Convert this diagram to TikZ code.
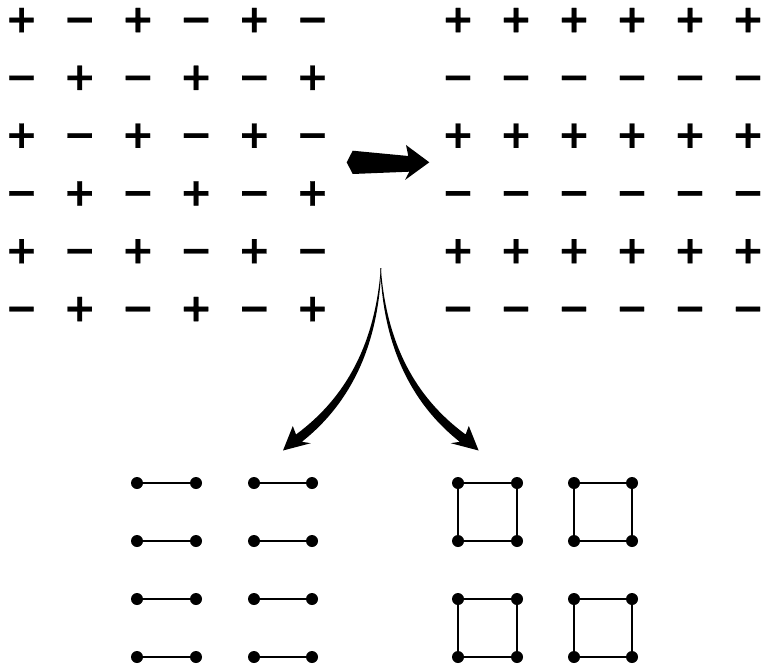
\documentclass[tikz,border=0pt]{standalone}
\usepackage{fontspec}
\newfontfamily\signfont{DejaVu Sans Bold}[FakeBold=0.6]
\usetikzlibrary{arrows.meta, positioning}
\tikzset{
  sign/.style={font=\signfont\fontsize{29}{29}\selectfont, inner sep=0pt, anchor=base, yshift=-11pt},
  site/.style={circle, fill=black, inner sep=0pt, minimum size=9pt},
  bond/.style={line width=1.5pt},
}

\begin{document}
\begin{tikzpicture}[x=0.75pt, y=-0.75pt]
\useasboundingbox (0,0) rectangle (762,670);
% staggered charges
\foreach \i in {0,...,5}
  \foreach \j in {0,...,5}
    \node[sign] (l-\i-\j) at ({21.5+58.2*\j},{17.5+57.8*\i})
      {\ifodd\numexpr\i+\j\relax −\else +\fi};
% striped charges
\foreach \i in {0,...,5}
  \foreach \j in {0,...,5}
    \node[sign] (r-\i-\j) at ({458+58*\j},{17.5+57.8*\i})
      {\ifodd\i −\else +\fi};
% fat arrow between the grids
\fill (346.7,162.3) -- (352.7,150.7) -- (408.3,156) -- (406,145) -- (429.3,162.3)
  -- (405,180) -- (409.3,171.7) -- (352.7,174) -- cycle;
% tapered arrows down
\coordinate (split) at (380.8,268);
\fill (split) .. controls (375.2,342.8) and (346.8,397) .. (296,434.5)
  -- (292.8,426) -- (283,450.5) -- (310.8,443.2) -- (301.8,441.8)
  .. controls (352.6,401.8) and (378.6,342.6) .. (381.3,268) -- cycle;
\fill (split) .. controls (386.4,342.8) and (414.6,397) .. (465.6,434.5)
  -- (468.8,426) -- (478.6,450.5) -- (450.8,443.2) -- (459.8,441.8)
  .. controls (409,401.8) and (383,342.6) .. (380.3,268) -- cycle;
% dimers
\foreach \r in {0,...,3}
  \foreach \c/\xa/\xb in {0/137/196, 1/254/312} {
    \node[site] (m\r\c a) at (\xa,{483+58*\r}) {};
    \node[site] (m\r\c b) at (\xb,{483+58*\r}) {};
    \draw[bond] (m\r\c a) -- (m\r\c b);
  }
% plaquettes
\foreach \r/\ya/\yb in {0/483/541, 1/599/657}
  \foreach \c/\xa/\xb in {0/458/517, 1/574/632} {
    \node[site] (p\r\c a) at (\xa,\ya) {};
    \node[site] (p\r\c b) at (\xb,\ya) {};
    \node[site] (p\r\c c) at (\xb,\yb) {};
    \node[site] (p\r\c d) at (\xa,\yb) {};
    \draw[bond] (p\r\c a.center) -- (p\r\c b.center) -- (p\r\c c.center)
      -- (p\r\c d.center) -- cycle;
  }
\end{tikzpicture}
\end{document}
